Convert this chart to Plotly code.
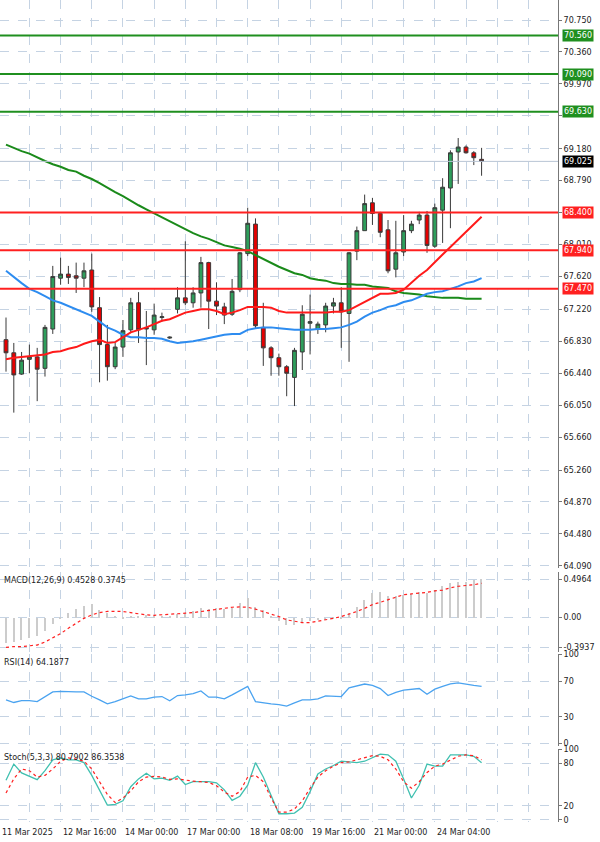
import plotly.graph_objects as go

# ---------------- data ----------------
opens  = [66.85,66.69,66.43,66.61,66.64,66.50,66.98,67.60,67.65,67.63,67.60,67.70,67.24,66.79,66.52,66.76,66.97,67.30,67.00,66.97,67.12,66.87,
          67.22,67.36,67.30,67.42,67.79,67.32,67.25,67.16,67.46,67.90,68.26,67.00,66.75,66.63,66.52,66.39,66.70,67.05,66.98,67.03,67.26,67.30,
          67.17,67.93,68.18,68.52,68.39,68.19,67.71,67.92,68.18,68.31,68.37,67.99,68.43,68.70,69.14,69.20,69.13,69.05]
highs  = [67.12,66.81,66.70,66.79,66.75,67.03,67.75,67.85,67.75,67.79,67.79,67.90,67.37,67.03,66.81,67.09,67.36,67.43,67.20,67.29,67.18,66.89,
          67.49,68.05,67.49,67.86,67.80,67.55,67.30,67.59,67.92,68.46,68.33,67.30,66.77,66.68,66.54,66.75,67.27,67.40,67.07,67.30,67.36,67.49,
          67.92,68.23,68.62,68.58,68.41,68.31,68.30,68.37,68.30,68.41,68.42,68.51,68.82,69.16,69.31,69.22,69.15,69.19]
lows   = [66.46,65.96,66.42,66.44,66.10,66.40,66.92,67.52,67.53,67.42,67.49,67.19,66.33,66.35,66.49,66.64,66.94,66.81,66.54,66.91,67.07,66.86,
          67.17,67.27,67.24,67.24,66.98,67.15,67.04,67.14,67.43,67.87,66.98,66.53,66.41,66.41,66.16,66.04,66.48,66.67,66.92,66.94,67.17,66.75,
          66.58,67.82,68.18,68.25,68.10,67.66,67.61,67.87,68.15,68.26,67.91,67.97,68.03,68.21,68.75,69.12,68.98,68.85]
closes = [66.69,66.42,66.60,66.64,66.49,67.00,67.62,67.65,67.61,67.60,67.69,67.25,66.79,66.52,66.76,66.96,67.30,66.97,66.98,67.15,67.13,66.88,
          67.36,67.30,67.42,67.79,67.32,67.26,67.15,67.44,67.91,68.27,67.02,66.75,66.63,66.52,66.44,66.72,67.16,67.07,67.04,67.26,67.30,67.19,
          67.91,68.18,68.51,68.39,68.16,67.69,67.91,68.18,68.26,68.37,68.00,68.46,68.71,69.13,69.20,69.13,69.07,69.025]
ma_red = [66.61,66.63,66.64,66.65,66.66,66.67,66.70,66.71,66.74,66.76,66.80,66.83,66.85,66.81,66.82,66.88,66.94,66.97,67.00,67.04,67.08,67.10,
          67.14,67.18,67.20,67.22,67.22,67.20,67.16,67.18,67.21,67.25,67.25,67.25,67.24,67.20,67.18,67.18,67.18,67.18,67.18,67.18,67.19,67.19,
          67.21,67.26,67.32,67.37,67.41,67.41,67.42,67.46,67.55,67.63,67.70,67.80,67.89,67.98,68.07,68.16,68.26,68.35]
ma_blue = [67.69,67.61,67.54,67.47,67.43,67.38,67.33,67.30,67.26,67.22,67.18,67.14,67.07,67.00,66.96,66.91,66.88,66.88,66.87,66.87,66.86,66.83,
           66.81,66.82,66.83,66.85,66.87,66.89,66.91,66.92,66.92,66.97,66.99,67.00,67.00,66.99,66.98,66.97,66.97,66.97,66.98,66.98,66.99,67.00,
           67.03,67.07,67.13,67.18,67.21,67.25,67.27,67.31,67.33,67.37,67.41,67.43,67.44,67.47,67.50,67.54,67.56,67.60]
ma_green = [69.23,69.19,69.15,69.12,69.08,69.03,68.99,68.96,68.92,68.90,68.85,68.81,68.76,68.70,68.65,68.60,68.54,68.49,68.44,68.39,68.35,68.30,
            68.25,68.20,68.15,68.11,68.08,68.04,68.00,67.98,67.96,67.93,67.88,67.83,67.79,67.74,67.70,67.66,67.64,67.60,67.58,67.57,67.54,67.53,
            67.53,67.52,67.52,67.50,67.49,67.48,67.44,67.42,67.41,67.40,67.38,67.37,67.36,67.36,67.36,67.35,67.35,67.35]
macd_hist = [-0.33,-0.32,-0.29,-0.27,-0.24,-0.18,-0.08,-0.02,0.06,0.11,0.15,0.18,0.10,0.06,0.01,-0.02,0.01,0.02,0.035,0.01,0.02,0.01,
             0.045,0.065,0.08,0.12,0.11,0.12,0.11,0.12,0.19,0.25,0.145,0.10,0.01,-0.05,-0.10,-0.10,-0.07,-0.05,-0.03,-0.03,-0.02,-0.01,
             0.06,0.145,0.23,0.32,0.33,0.285,0.285,0.30,0.31,0.33,0.32,0.36,0.41,0.45,0.47,0.46,0.49,0.50]
macd_signal = [-0.39,-0.38,-0.38,-0.37,-0.36,-0.32,-0.27,-0.21,-0.14,-0.075,-0.01,0.035,0.065,0.08,0.083,0.08,0.065,0.05,0.035,0.03,0.035,0.04,
               0.05,0.057,0.065,0.08,0.09,0.11,0.12,0.135,0.14,0.135,0.11,0.08,0.05,0.013,-0.03,-0.05,-0.066,-0.066,-0.05,-0.03,-0.01,0.013,
               0.044,0.08,0.12,0.17,0.20,0.23,0.27,0.30,0.31,0.32,0.33,0.35,0.36,0.39,0.41,0.42,0.43,0.45]
rsi = [49,46,48,48,47,53,58,58.5,58,58,58,53,49,44.4,47,50,53.4,50,50,52,52.7,48,53.8,54.5,56,59,52,52,50,54.5,59,64,47,45.5,44.4,43.7,42,
       45.5,49,49,50,53.4,53.4,52.7,62.4,64.6,66.8,65.3,61.7,53.8,57.4,60,61,61.7,55.2,61,64.2,67,68,66.4,65.3,64.2]
stoch_k = [56,79,66.5,62,57,69.6,85,87.7,85,85,81,63,41,21,22,27,47,58,66,58,59,56,62,50,54,54,54,52.5,42.5,27.7,33.5,49,81,60.6,35.8,8.7,8.7,
           9.6,17.8,40,65,72,77,83,82,81,83,88,93,92,83,58,31,49,79,76,76,92,92,92,90,81]
stoch_d = [38,58,72,69.6,60.6,63,72,83,87.7,86,83,72,54,36,24.5,31,41,54,60.6,61.5,60.6,57.4,58,56,54.7,54,53,48.4,39.4,33.5,40,60.6,63,54,31,11,
           11,15.5,26.8,44.8,60.6,69.6,76,81,82,85,87.7,90.8,90,85,72,54,44.8,54,67,76,79,85,90,92,90.8,85]
price_ticks = [70.750,70.360,69.970,69.580,69.180,68.790,68.400,68.010,67.620,67.220,66.830,66.440,66.050,65.660,65.260,64.870,64.480,64.090]
hidden_ticks = [69.580,68.400]
green_levels = [70.560,70.090,69.630]
red_levels = [68.400,67.940,67.470]
last_price = 69.025
date_idx = [-0.77,7,15,23,31,39,47,55]
date_labels = ["11 Mar 2025","12 Mar 16:00","14 Mar 00:00","17 Mar 00:00","18 Mar 08:00","19 Mar 16:00","21 Mar 00:00","24 Mar 04:00"]

x = list(range(len(closes)))
FONT = "DejaVu Sans"
GRID = "#c5d3e3"
fig = go.Figure()

fig.add_trace(go.Candlestick(x=x, open=opens, high=highs, low=lows, close=closes,
    increasing=dict(fillcolor="#2e9e5b", line=dict(color="#3a3a3a", width=1)),
    decreasing=dict(fillcolor="#e60000", line=dict(color="#3a3a3a", width=1)),
    whiskerwidth=0, xaxis="x", yaxis="y", showlegend=False))
for vals, col in [(ma_green, "#1a8a1a"), (ma_blue, "#2d8cf0"), (ma_red, "#ff1a1a")]:
    fig.add_trace(go.Scatter(x=x, y=vals, mode="lines", line=dict(color=col, width=2), xaxis="x", yaxis="y", showlegend=False))

fig.add_trace(go.Bar(x=x, y=macd_hist, marker_color="#cccccc", marker_line_width=0, width=0.18, xaxis="x2", yaxis="y2", showlegend=False))
fig.add_trace(go.Scatter(x=x, y=macd_signal, mode="lines", line=dict(color="#ff2020", width=1.2, dash="dot"), xaxis="x2", yaxis="y2", showlegend=False))
fig.add_trace(go.Scatter(x=x, y=rsi, mode="lines", line=dict(color="#4aa3f0", width=1.3), xaxis="x3", yaxis="y3", showlegend=False))
fig.add_trace(go.Scatter(x=x, y=stoch_k, mode="lines", line=dict(color="#40c0b0", width=1.3), xaxis="x4", yaxis="y4", showlegend=False))
fig.add_trace(go.Scatter(x=x, y=stoch_d, mode="lines", line=dict(color="#ff2020", width=1.2, dash="dot"), xaxis="x4", yaxis="y4", showlegend=False))

H = 842.0
def dom(top, bot):
    return [1 - bot / H, 1 - top / H]

xr = [-0.77, 70.8]
vgrid = list(range(-1, 72, 4))
axfont = dict(family=FONT, size=8, color="#222")
def xax(ya):
    return dict(domain=[0, 1], range=xr, showticklabels=False, tickvals=vgrid, showgrid=True, gridcolor=GRID,
                griddash="dash", zeroline=False, showline=False, ticks="", anchor=ya, automargin=False,
                rangeslider=dict(visible=False), fixedrange=True)
def yax(domain, rng, tv, tt=None):
    d = dict(domain=domain, range=rng, side="right", tickvals=tv, showgrid=True, gridcolor=GRID, griddash="dash",
             zeroline=False, showline=True, mirror=True, linecolor="#777", linewidth=1, ticks="outside", ticklen=3,
             tickcolor="#777", tickfont=axfont, automargin=False, fixedrange=True)
    if tt is not None:
        d["ticktext"] = tt
    return d

fig.update_layout(
    width=600, height=842, margin=dict(l=0, r=42, t=0, b=0, autoexpand=False),
    paper_bgcolor="white", plot_bgcolor="white",
    xaxis=xax("y"), xaxis2=xax("y2"), xaxis3=xax("y3"), xaxis4=xax("y4"),
    yaxis=yax(dom(0, 568), [70.994 - 568 * 0.0122, 70.994], price_ticks,
              ["" if v in hidden_ticks else f"{v:.3f}" for v in price_ticks]),
    yaxis2=yax(dom(572, 652), [-0.451, 0.597], [0.4964, 0.0, -0.3937], ["0.4964", "0.00", "-0.3937"]),
    yaxis3=yax(dom(654, 746), [-3, 100.6], [100, 70, 30, 0]),
    yaxis4=yax(dom(749, 822), [-3, 100.3], [100, 80, 20, 0]),
    bargap=0, showlegend=False,
)
fig.layout.yaxis.anchor = "x"
for n in (2, 3, 4):
    fig.layout[f"yaxis{n}"].anchor = f"x{n}"

shapes = []
for lv in green_levels:
    shapes.append(dict(type="line", xref="paper", x0=0, x1=1, yref="y", y0=lv, y1=lv, line=dict(color="#1f8f1f", width=2)))
for lv in red_levels:
    shapes.append(dict(type="line", xref="paper", x0=0, x1=1, yref="y", y0=lv, y1=lv, line=dict(color="#ff2020", width=2)))
shapes.append(dict(type="line", xref="paper", x0=0, x1=1, yref="y", y0=last_price, y1=last_price, line=dict(color="#b8c4d4", width=1)))
fig.update_layout(shapes=shapes)

ann = []
def lvl(v, bg, fg="white"):
    ann.append(dict(xref="paper", x=1, xshift=4, yref="y", y=v, text=f"{v:.3f}", showarrow=False, xanchor="left",
                    bgcolor=bg, font=dict(family=FONT, size=8, color=fg), borderpad=1))
for lv in green_levels:
    lvl(lv, "#1f8f1f")
for lv in red_levels:
    lvl(lv, "#ff2020")
lvl(last_price, "#000000")
for i, t in zip(date_idx, date_labels):
    ann.append(dict(xref="x4", x=i, yref="paper", y=0.0, yshift=3, yanchor="bottom", xanchor="left", text=t, showarrow=False,
                    font=dict(family=FONT, size=8, color="#222")))
hdr = [("MACD(12,26,9) 0.4528 0.3745", 572), ("RSI(14) 64.1877", 654), ("Stoch(5,3,3) 80.7902 86.3538", 749)]
for t, top in hdr:
    ann.append(dict(xref="paper", x=0.003, yref="paper", y=1 - (top + 2) / H, xanchor="left", yanchor="top", text=t,
                    showarrow=False, font=dict(family=FONT, size=8, color="#222")))
fig.update_layout(annotations=ann)

fig.write_html("out.html", config={"responsive": False, "displayModeBar": False},
               post_script="document.body.style.margin='0';document.body.style.overflow='hidden';")
